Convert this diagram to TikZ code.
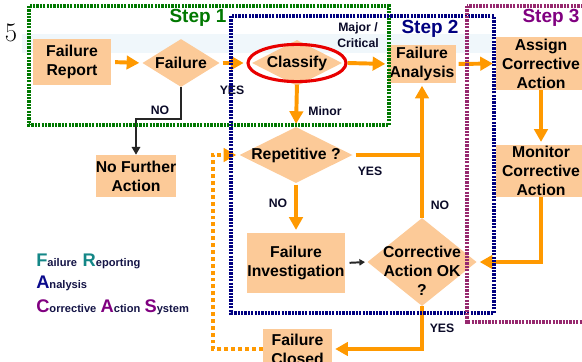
\documentclass[tikz,border=0pt]{standalone}
\usepackage{fontspec}
\newfontfamily\arialfont{Liberation Sans}
\usetikzlibrary{arrows.meta,positioning,shapes.geometric}
\definecolor{peach}{RGB}{252,202,152}
\definecolor{flowor}{RGB}{255,153,0}
\definecolor{ringred}{RGB}{232,0,0}
\definecolor{stepone}{RGB}{0,120,0}
\definecolor{steptwo}{RGB}{0,0,128}
\definecolor{stepthree}{RGB}{150,40,110}
\definecolor{stepthreetxt}{RGB}{128,0,128}
\definecolor{lbltext}{RGB}{10,10,40}
\definecolor{bandblue}{RGB}{240,247,251}
\definecolor{frteal}{RGB}{20,135,135}
\definecolor{anavy}{RGB}{10,10,140}
\definecolor{casviolet}{RGB}{128,0,128}
\definecolor{legtext}{RGB}{20,20,70}
\newcommand{\boxfont}{\arialfont\bfseries\fontsize{11.2}{13.5}\selectfont}
\newcommand{\lblfont}{\arialfont\bfseries\fontsize{8.7}{11.4}\selectfont}
\newcommand{\steptfont}{\arialfont\bfseries\fontsize{13.5}{13.5}\selectfont}
\newcommand{\capl}[2]{\textcolor{#1}{\fontsize{13}{13}\selectfont #2}}

\begin{document}
\begin{tikzpicture}[
  x=0.025cm, y=-0.025cm,
  box/.style={rectangle, fill=peach, inner sep=0pt, align=center, font=\boxfont},
  decision/.style={diamond, fill=peach, inner sep=0pt},
  dtext/.style={align=center, font=\boxfont, inner sep=0pt},
  lbl/.style={font=\lblfont, text=lbltext, inner sep=0pt, align=center},
  flowline/.style={draw=flowor, line width=2.8pt},
  flowarrow/.style={flowline, -{Triangle[length=9pt,width=9.5pt]}, shorten >=2pt},
  blackarrow/.style={draw=black!85, line width=1.2pt, -{Triangle[length=5.5pt,width=6pt]}},
  retry/.style={flowline, dash pattern=on 2.8pt off 2.1pt, -{Triangle[length=9pt,width=9.5pt]}, shorten >=2pt},
  frame/.style={line width=2.2pt, dash pattern=on 1.6pt off 0.8pt},
  steptitle/.style={font=\steptfont, inner sep=0pt},
  legend/.style={font=\arialfont\bfseries\fontsize{7.9}{7.9}\selectfont, text=legtext, anchor=west, inner sep=0pt}
]
\useasboundingbox (0,0) rectangle (582,361);
\clip (0,0) rectangle (582,361);
\fill[bandblue] (22,34) rectangle (494,53);

\node[font=\fontsize{19}{19}\selectfont, inner sep=0pt] (pgno) at (11,33) {5};

% boxes and decisions
\node[box, minimum width=1.93cm, minimum height=1.13cm] (rep) at (72,62) {Failure\\Report};
\node[decision, minimum width=1.93cm, minimum height=1.2cm] (fai) at (181,63) {};
\node[dtext] at (fai) {Failure};
\node[decision, minimum width=2.25cm, minimum height=1.15cm] (cls) at (297,63) {};
\node[dtext] at (cls) {Classify};
\node[ellipse, draw=ringred, line width=2.2pt, minimum width=2.45cm, minimum height=0.93cm, inner sep=0pt] (ring) at (297,63) {};
\node[box, minimum width=1.68cm, minimum height=0.93cm] (fan) at (422,64) {Failure\\Analysis};
\node[box, minimum width=2.25cm, minimum height=1.33cm] (aca) at (541,63.5) {Assign\\Corrective\\Action};
\node[box, minimum width=2.25cm, minimum height=1.3cm] (mca) at (541,171) {Monitor\\Corrective\\Action};
\node[box, minimum width=1.98cm, minimum height=1.05cm] (nfa) at (136,176) {No Further\\Action};
\node[decision, minimum width=2.83cm, minimum height=1.4cm] (rpt) at (296,155) {};
\node[dtext] at (rpt) {Repetitive ?};
\node[box, minimum width=2.45cm, minimum height=1.5cm] (fin) at (296,263) {Failure\\Investigation};
\node[decision, minimum width=2.73cm, minimum height=2.2cm] (cao) at (422,262) {};
\node[dtext] at (422,271) {Corrective\\Action OK\\?};
\node[box, minimum width=1.73cm, minimum height=1.0cm] (fcl) at (297.5,349) {Failure\\Closed};

% connectors
\draw[flowarrow, shorten <=3pt] (rep.east) -- (fai.west);
\draw[flowarrow, shorten <=2pt] (fai.east) -- (ring.west);
\draw[flowarrow] (ring.east) -- (fan.west);
\draw[blackarrow] (fai.south) -- ++(0,32) -| (nfa.north);
\draw[flowarrow, shorten <=1pt] (ring.south) -- (rpt.north);
\draw[flowarrow, shorten <=2pt] (rpt.east) -| (fan.south);
\draw[flowline] (cao.north) -- (cao.north |- rpt.east);
\draw[flowarrow, shorten <=1pt] (rpt.south) -- (fin.north);
\draw[draw=black!85, line width=1.4pt, -{Triangle[length=4pt,width=4.5pt]}, shorten <=3pt, shorten >=1.5pt] (fin.east) -- (cao.west);
\draw[flowarrow] (cao.south) |- (fcl.east);
\draw[flowarrow, shorten <=2pt] (fan.east) -- (aca.west);
\draw[flowarrow] (aca.south) -- (mca.north);
\draw[flowarrow] (mca.south) |- (cao.east);
\coordinate (loop) at (213,155);
\draw[retry] (fcl.west) -| (loop) -- (rpt.west);

% labels
\node[lbl] (yes1) at (232,90) {YES};
\node[lbl] (no1) at (160,110) {NO};
\node[lbl] (sev) at (358,35) {Major /\\Critical};
\node[lbl] (minor) at (325,111) {Minor};
\node[lbl] (yes2) at (370,171) {YES};
\node[lbl] (no2) at (278,203) {NO};
\node[lbl] (no3) at (440,205) {NO};
\node[lbl] (yes3) at (442,328) {YES};

% step frames
\draw[frame, draw=stepone] (29,6) rectangle (389,125);
\draw[frame, draw=steptwo] (231,16) rectangle (494,313);
\draw[frame, draw=stepthree] (467,6) rectangle (592,322);
\node[steptitle, text=stepone] (s1) at (198,18) {Step 1};
\node[steptitle, text=steptwo] (s2) at (430,29) {Step 2};
\node[steptitle, text=stepthreetxt] (s3) at (551,18) {Step 3};

% legend
\node[legend] (lfr) at (36,261) {\capl{frteal}{F}ailure\hspace{4pt}\capl{frteal}{R}eporting};
\node[legend] (la) at (36,283) {\capl{anavy}{A}nalysis};
\node[legend] (lcas) at (36,307) {\capl{casviolet}{C}orrective\hspace{3pt}\capl{casviolet}{A}ction\hspace{3pt}\capl{casviolet}{S}ystem};
\end{tikzpicture}
\end{document}
